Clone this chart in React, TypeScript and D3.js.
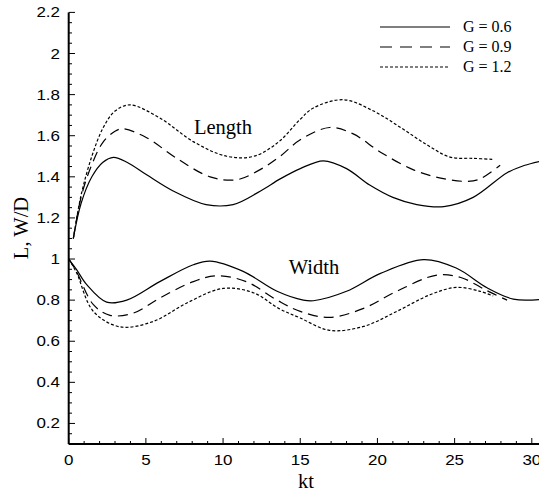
import React from "react";
import * as d3 from "d3";

const xTicks = [0, 5, 10, 15, 20, 25, 30];
const yTicks = [0.2, 0.4, 0.6, 0.8, 1, 1.2, 1.4, 1.6, 1.8, 2, 2.2];

const lenG06: [number, number][] = [
  [0.3, 1.1], [0.8, 1.27], [1.5, 1.4], [2.2, 1.47], [2.9, 1.495], [3.8, 1.47], [5.05, 1.41],
  [6.8, 1.33], [8.9, 1.265], [10.65, 1.265], [12.4, 1.33], [13.7, 1.39], [15, 1.44],
  [16.5, 1.478], [18, 1.44], [19.5, 1.36], [21, 1.3], [22.55, 1.265], [24.3, 1.255],
  [26.2, 1.3], [28.4, 1.42], [29.5, 1.455], [30.5, 1.475],
];
const lenG09: [number, number][] = [
  [0.3, 1.1], [0.8, 1.3], [1.5, 1.46], [2.24, 1.57], [3.0, 1.622], [3.5, 1.634], [5.05, 1.59],
  [7.0, 1.49], [9.16, 1.4], [10.9, 1.386], [12.4, 1.435], [13.7, 1.5], [15, 1.58],
  [16.9, 1.64], [18.4, 1.61], [20.2, 1.52], [22.3, 1.435], [24.1, 1.394], [25.8, 1.378],
  [26.65, 1.39], [27.95, 1.456],
];
const lenG12: [number, number][] = [
  [0.3, 1.1], [0.8, 1.31], [1.5, 1.5], [2.24, 1.64], [3.0, 1.72], [3.97, 1.75], [5.9, 1.686],
  [8.1, 1.57], [10.24, 1.5], [12.0, 1.5], [13.6, 1.57], [15, 1.68], [15.85, 1.735],
  [17.8, 1.775], [19.75, 1.72], [21.5, 1.64], [23.2, 1.556], [24.7, 1.496], [26.2, 1.49],
  [27.5, 1.485],
];
const widG06: [number, number][] = [
  [0, 1.0], [0.5, 0.95], [1.17, 0.875], [2.46, 0.79], [3.76, 0.8], [5.9, 0.89], [8.07, 0.972],
  [9.16, 0.99], [11.3, 0.94], [13.5, 0.843], [15.2, 0.8], [15.85, 0.797], [18.0, 0.843],
  [20.2, 0.93], [23.0, 0.997], [25.1, 0.956], [27.1, 0.86], [28.8, 0.805], [30.5, 0.803],
];
const widG09: [number, number][] = [
  [0, 1.0], [0.5, 0.94], [1.6, 0.778], [2.68, 0.726], [4.19, 0.737], [5.9, 0.81], [8.07, 0.89],
  [9.6, 0.918], [11.5, 0.89], [13.5, 0.8], [15, 0.745], [16.9, 0.716], [19.1, 0.76],
  [21.25, 0.843], [23.85, 0.922], [25.4, 0.91], [27.1, 0.846], [28.4, 0.8],
];
const widG12: [number, number][] = [
  [0, 1.0], [0.5, 0.935], [1.6, 0.745], [3.33, 0.67], [5.5, 0.697], [7.65, 0.786], [10.0, 0.857],
  [12.0, 0.835], [13.6, 0.76], [15, 0.713], [16.9, 0.653], [19.1, 0.672], [21.25, 0.745],
  [23.4, 0.826], [25.1, 0.862], [26.65, 0.843], [27.5, 0.82],
];

const legendLabels = ["G = 0.6", "G = 0.9", "G = 1.2"];
const dashes = ["none", "10 6", "3 2"];

export default function App() {
  const x = d3.scaleLinear().domain([0, 30]).range([68.7, 531.8]);
  const y = d3.scaleLinear().domain([0.1, 2.2]).range([444, 12.4]);
  const line = d3
    .line<[number, number]>()
    .x((d) => x(d[0]))
    .y((d) => y(d[1]))
    .curve(d3.curveCatmullRom.alpha(0.5));

  const series = [
    { d: lenG06, k: 0 }, { d: lenG09, k: 1 }, { d: lenG12, k: 2 },
    { d: widG06, k: 0 }, { d: widG09, k: 1 }, { d: widG12, k: 2 },
  ];
  const xMinor = d3.range(0, 31, 1);
  const yMinor = d3.range(0.1, 2.2001, 0.05);
  const sans = "'Liberation Sans', Arial, sans-serif";
  const serif = "'Liberation Serif', 'Times New Roman', serif";

  return (
    <svg width={539} height={492} style={{ position: "absolute", left: 0, top: 0 }}>
      <rect width={539} height={492} fill="#fff" />
      {series.map((s, i) => (
        <path key={i} d={line(s.d) || ""} fill="none" stroke="#000" strokeWidth={1.2}
          strokeDasharray={dashes[s.k]} />
      ))}
      {/* axes */}
      <line x1={68.7} x2={68.7} y1={y(2.2)} y2={444} stroke="#000" strokeWidth={2} />
      <line x1={68.7} x2={539} y1={444} y2={444} stroke="#000" strokeWidth={2} />
      {xMinor.map((v) => (
        <line key={"xm" + v} x1={x(v)} x2={x(v)} y1={444} y2={v % 5 === 0 ? 438 : 441}
          stroke="#000" strokeWidth={1} />
      ))}
      {yMinor.map((v, i) => {
        const major = Math.abs(Math.round(v * 5) - v * 5) < 1e-6;
        return (
          <line key={"ym" + i} x1={68.7} x2={major ? 75 : 72} y1={y(v)} y2={y(v)}
            stroke="#000" strokeWidth={1} />
        );
      })}
      {xTicks.map((v) => (
        <text key={"xt" + v} transform={`translate(${x(v)},465) scale(1.17,1)`} textAnchor="middle"
          fontFamily={sans} fontSize={14.5}>
          {v}
        </text>
      ))}
      {yTicks.map((v) => (
        <text key={"yt" + v} transform={`translate(60,${y(v) + 5}) scale(1.17,1)`} textAnchor="end"
          fontFamily={sans} fontSize={14.5}>
          {String(v)}
        </text>
      ))}
      <text x={306} y={488} textAnchor="middle" fontFamily={serif} fontSize={20.5}>kt</text>
      <text transform={`translate(28,228) rotate(-90)`} textAnchor="middle"
        fontFamily={serif} fontSize={20.5}>L, W/D</text>
      <text x={223} y={134} textAnchor="middle" fontFamily={serif} fontSize={20.5}>Length</text>
      <text x={314} y={274} textAnchor="middle" fontFamily={serif} fontSize={20.5}>Width</text>
      {legendLabels.map((lab, i) => (
        <g key={lab}>
          <line x1={380} x2={450} y1={27 + i * 20} y2={27 + i * 20} stroke="#000"
            strokeWidth={1.2} strokeDasharray={i === 1 ? "12 8" : dashes[i]} />
          <text x={463} y={32 + i * 20} fontFamily={serif} fontSize={16}>{lab}</text>
        </g>
      ))}
    </svg>
  );
}
